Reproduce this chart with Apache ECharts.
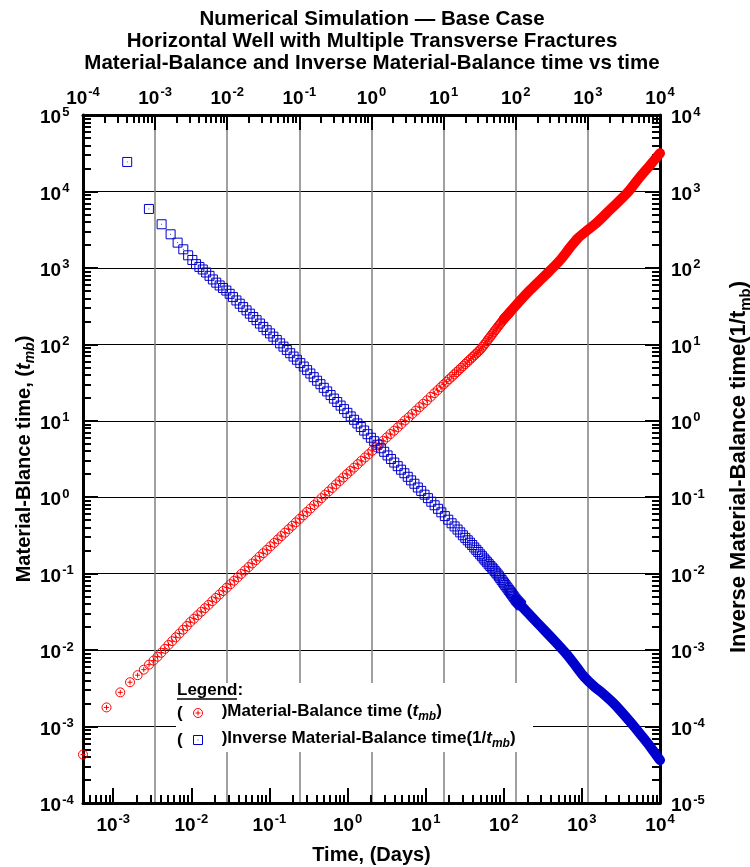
<!DOCTYPE html>
<html>
<head>
<meta charset="utf-8">
<script src="https://cdn.jsdelivr.net/npm/echarts@6/dist/echarts.min.js"></script>
<style>html,body{margin:0;padding:0;background:#fff}#c{width:750px;height:867px}</style>
</head>
<body>
<div id="c"></div>
<script>
const F = '"Liberation Sans", Arial, Helvetica, sans-serif';

// ---- data (time in days) ----
const timeDays = [
  4.1e-4, 8.2e-4, 1.23e-3, 1.64e-3, 2.05e-3, 2.46e-3, 2.87e-3, 3.28e-3, 3.69e-3,
  4.11e-3, 4.58e-3, 5.10e-3, 5.68e-3, 6.32e-3, 7.04e-3, 7.84e-3, 8.73e-3, 9.72e-3,
  1.08e-2, 1.20e-2, 1.34e-2, 1.49e-2, 1.66e-2, 1.85e-2, 2.06e-2, 2.29e-2, 2.55e-2, 2.84e-2,
  3.16e-2, 3.52e-2, 3.92e-2, 4.36e-2, 4.86e-2, 5.41e-2, 6.02e-2, 6.70e-2, 7.46e-2, 8.31e-2, 9.25e-2,
  0.103, 0.115, 0.128, 0.142, 0.158, 0.176, 0.196, 0.218, 0.243, 0.271,
  0.301, 0.335, 0.373, 0.416, 0.463, 0.515, 0.573, 0.638, 0.711, 0.791, 0.881, 0.981,
  1.09, 1.21, 1.35, 1.50, 1.67, 1.86, 2.07, 2.31, 2.57, 2.86,
  3.18, 3.54, 3.94, 4.39, 4.89, 5.44, 6.06, 6.74, 7.50, 8.35, 9.30,
  10.4, 11.6, 12.9, 14.2, 15.6, 17.0, 18.5, 20.0, 21.6, 23.2, 24.9,
  26.6, 28.4, 30.2, 32.1, 34.0, 36.0, 38.0, 40.1, 42.2, 44.4, 46.6, 48.9,
  51.2, 53.6, 56.0, 58.5, 61.0, 63.6, 66.2, 68.9, 71.6, 74.4, 77.2, 80.1, 83.0, 86.0, 89.0, 92.1, 95.2, 98.4,
  101.6, 104.9, 108.2, 111.6, 115.0, 118.5
];
// Material-balance time t_mb (left axis)
const tmb = [
  4.3e-4, 1.78e-3, 2.8e-3, 3.8e-3, 4.7e-3, 5.55e-3, 6.45e-3, 7.3e-3, 8.2e-3,
  9.23e-3, 1.04e-2, 1.17e-2, 1.31e-2, 1.47e-2, 1.65e-2, 1.85e-2, 2.07e-2, 2.33e-2,
  2.58e-2, 2.86e-2, 3.18e-2, 3.53e-2, 3.91e-2, 4.35e-2, 4.82e-2, 5.33e-2, 5.92e-2, 6.56e-2,
  7.28e-2, 8.09e-2, 8.96e-2, 0.0993, 0.110, 0.122, 0.136, 0.150, 0.167, 0.185, 0.205,
  0.228, 0.253, 0.281, 0.310, 0.344, 0.382, 0.423, 0.469, 0.521, 0.579,
  0.641, 0.711, 0.789, 0.875, 0.972, 1.08, 1.19, 1.32, 1.47, 1.63, 1.81, 2.01,
  2.21, 2.44, 2.71, 2.99, 3.31, 3.66, 4.05, 4.50, 4.97, 5.49,
  6.07, 6.72, 7.42, 8.22, 9.10, 10.1, 11.1, 12.3, 13.6, 15.1, 16.7,
  18.5, 20.6, 22.9, 25.1, 27.5, 29.9, 32.4, 35.0, 37.7, 40.4, 43.3,
  46.1, 49.1, 52.1, 55.3, 58.5, 61.8, 65.2, 68.6, 72.1, 75.7, 79.4, 83.2,
  87.5, 93.1, 98.6, 104, 110, 117, 123, 130, 137, 144, 152, 159, 167, 175, 183, 191, 200, 209,
  218, 226, 234, 243, 251, 260
];
// Inverse material-balance time 1/t_mb (right axis)
const invTmb = [
  2430, 590, 372, 275, 214, 175, 146, 127, 112,
  103, 95.3, 87.1, 78.7, 70.6, 64.1, 58.9, 54.6, 50.5,
  45.8, 41.5, 37.5, 34.0, 30.7, 27.8, 25.2, 22.8, 20.7, 18.7,
  16.9, 15.3, 13.9, 12.6, 11.4, 10.3, 9.33, 8.45, 7.65, 6.92, 6.28,
  5.68, 5.12, 4.60, 4.15, 3.72, 3.34, 3.01, 2.70, 2.42, 2.17,
  1.95, 1.76, 1.58, 1.42, 1.27, 1.14, 1.03, 0.923, 0.828, 0.745, 0.668, 0.600,
  0.541, 0.486, 0.437, 0.393, 0.352, 0.316, 0.284, 0.255, 0.229, 0.206,
  0.185, 0.166, 0.150, 0.134, 0.121, 0.108, 0.0973, 0.0873, 0.0785, 0.0705, 0.0634,
  0.0566, 0.0508, 0.0456, 0.0415, 0.0378, 0.0347, 0.0318, 0.0294, 0.0273, 0.0254, 0.0237,
  0.0220, 0.0205, 0.0192, 0.0179, 0.0169, 0.0158, 0.0149, 0.0141, 0.0133, 0.0126, 0.0120, 0.0114,
  0.0108, 0.0103, 0.00977, 0.00923, 0.00875, 0.00828, 0.00785, 0.00746, 0.00710, 0.00675, 0.00643, 0.00612, 0.00586, 0.00561, 0.00536, 0.00513, 0.00490, 0.00470,
  0.00451, 0.00436, 0.00423, 0.00409, 0.00397, 0.00385
];
// late-time (dense) part
const timeLate = [100, 143, 217, 337, 525, 708, 891, 1202, 1585, 2291, 3802, 5546, 7413, 10000];
const tmbLate = [214, 324, 513, 794, 1259, 1862, 2455, 3162, 3981, 5754, 9550, 15490, 21880, 31620];
const invTmbLate = [4.57e-3, 3.16e-3, 2.09e-3, 1.35e-3, 8.51e-4, 5.89e-4, 4.47e-4, 3.39e-4, 2.75e-4, 2.0e-4, 1.17e-4, 7.59e-5, 5.37e-5, 3.63e-5];

// ---- axis ticks ----
const bottomTicks = [1e-3, 1e-2, 1e-1, 1e0, 1e1, 1e2, 1e3, 1e4];
const topTicks = [1e-4, 1e-3, 1e-2, 1e-1, 1e0, 1e1, 1e2, 1e3, 1e4];
const leftTicks = [1e-4, 1e-3, 1e-2, 1e-1, 1e0, 1e1, 1e2, 1e3, 1e4, 1e5];
const rightTicks = [1e-5, 1e-4, 1e-3, 1e-2, 1e-1, 1e0, 1e1, 1e2, 1e3, 1e4];
const bottomRange = [4.1e-4, 1e4];
const topRange = [1e-4, 1e4];
const leftRange = [1e-4, 1e5];
const rightRange = [1e-5, 1e4];

const NAME_RED = 'Material-Balance time';
const NAME_BLUE = 'Inverse Material-Balance time';
const RED_SYMBOL = 'path://M0,10A10,10,0,1,1,20,10A10,10,0,1,1,0,10ZM10,4.5L10,15.5M4.5,10L15.5,10';
const BLUE_SYMBOL = 'path://M0,0L20,0L20,20L0,20ZM9.2,10L10.8,10';
const RED = '#ff0000';
const BLUE = '#0000cc';

function minorValues(lo, hi) {
  const out = [];
  for (let d = Math.floor(Math.log10(lo)); d < Math.ceil(Math.log10(hi)); d++) {
    for (let k = 2; k <= 9; k++) {
      const v = k * Math.pow(10, d);
      if (v > lo * 1.0001 && v < hi * 0.9999) out.push(v);
    }
  }
  return out;
}
const expLabel = v => '{b|10}{s|' + Math.round(Math.log10(v)) + '}';
const tickRich = {
  b: {fontFamily: F, fontSize: 19, fontWeight: 'bold', color: '#000', lineHeight: 19, padding: [3, 0, 0, 0], verticalAlign: 'top'},
  s: {fontFamily: F, fontSize: 13, fontWeight: 'bold', color: '#000', lineHeight: 13, padding: [0, 0, 0, 1], verticalAlign: 'top'}
};
function nameRich(size) {
  const sub = Math.round(size * 0.7);
  return {
    n: {fontFamily: F, fontSize: size, fontWeight: 'bold', color: '#000', lineHeight: size + 2, verticalAlign: 'top'},
    i: {fontFamily: F, fontSize: size, fontWeight: 'bold', fontStyle: 'italic', color: '#000', lineHeight: size + 2, verticalAlign: 'top'},
    sub: {fontFamily: F, fontSize: sub, fontWeight: 'bold', fontStyle: 'italic', color: '#000', lineHeight: sub, padding: [Math.round(size * 0.45), 0, 0, 0], verticalAlign: 'top'},
    subn: {fontFamily: F, fontSize: sub, fontWeight: 'bold', color: '#000', lineHeight: sub, padding: [Math.round(size * 0.45), 0, 0, 0], verticalAlign: 'top'}
  };
}

function majorAxis(opt) {
  return Object.assign({
    type: 'log', logBase: 10, nameMoveOverlap: false,
    axisLine: {show: true, onZero: false, lineStyle: {color: '#000', width: 3}},
    axisTick: {show: true, inside: true, length: 15, customValues: opt.ticks, lineStyle: {color: '#000', width: 2}},
    axisLabel: {show: true, customValues: opt.ticks, formatter: expLabel, rich: tickRich, margin: opt.margin, align: opt.align},
    splitLine: {show: false},
    minorTick: {show: false}, minorSplitLine: {show: false}
  }, opt.extra);
}
function minorAxis(position, range) {
  return {
    type: 'log', logBase: 10, position: position, min: range[0], max: range[1],
    axisLine: {show: false},
    axisLabel: {show: false},
    splitLine: {show: false},
    axisTick: {show: true, inside: true, length: 8, customValues: minorValues(range[0], range[1]), lineStyle: {color: '#000', width: 2}}
  };
}
const zip = (a, b) => a.map((v, i) => [v, b[i]]);

const chart = echarts.init(document.getElementById('c'), null, {renderer: 'canvas'});
chart.setOption({
  animation: false,
  backgroundColor: '#fff',
  title: {
    text: 'Numerical Simulation \u2014 Base Case\nHorizontal Well with Multiple Transverse Fractures\nMaterial-Balance and Inverse Material-Balance time vs time',
    left: 372, top: 8, padding: 0, textAlign: 'center',
    textStyle: {fontFamily: F, fontSize: 20.5, fontWeight: 'bold', lineHeight: 22, color: '#000'}
  },
  grid: {left: 83, right: 90, top: 115, bottom: 64, containLabel: false, outerBoundsMode: 'none'},
  xAxis: [
    majorAxis({ticks: bottomTicks, margin: 10, extra: {
      position: 'bottom', min: bottomRange[0], max: bottomRange[1],
      name: 'Time, (Days)', nameLocation: 'middle', nameGap: 42,
      nameTextStyle: {fontFamily: F, fontSize: 20, fontWeight: 'bold', color: '#000'}
    }}),
    majorAxis({ticks: topTicks, margin: 10, extra: {
      position: 'top', min: topRange[0], max: topRange[1], splitNumber: 8,
      splitLine: {show: true, lineStyle: {color: '#808080', width: 1.5}}
    }}),
    minorAxis('bottom', bottomRange),
    minorAxis('top', topRange)
  ],
  yAxis: [
    majorAxis({ticks: leftTicks, margin: 43, align: 'left', extra: {
      position: 'left', min: leftRange[0], max: leftRange[1], splitNumber: 9,
      splitLine: {show: true, lineStyle: {color: '#000', width: 1.2}},
      name: '{n|Material-Blance time, (}{i|t}{sub|mb}{n|)}', nameLocation: 'middle', nameGap: 47,
      nameTextStyle: {rich: nameRich(20)}
    }}),
    majorAxis({ticks: rightTicks, margin: 11, align: 'left', extra: {
      position: 'right', min: rightRange[0], max: rightRange[1], splitNumber: 9,
      name: '{n|Inverse Material-Balance time(1/t}{subn|mb}{n|)}', nameLocation: 'middle', nameGap: 68,
      nameTextStyle: {rich: nameRich(22), padding: [0, 16, 0, 0]}
    }}),
    minorAxis('left', leftRange),
    minorAxis('right', rightRange)
  ],
  legend: {
    orient: 'vertical', left: 193, top: 703, padding: 0,
    itemWidth: 9, itemHeight: 9, itemGap: 7, selectedMode: false,
    data: [
      {name: NAME_RED, icon: RED_SYMBOL, itemStyle: {color: 'rgba(0,0,0,0)', borderColor: RED, borderWidth: 1}},
      {name: NAME_BLUE, icon: BLUE_SYMBOL, itemStyle: {color: 'rgba(0,0,0,0)', borderColor: BLUE, borderWidth: 1}}
    ],
    formatter: name => name === NAME_RED
      ? '{t|   )Material-Balance time (}{i|t}{sub|mb}{t|)}'
      : '{t|   )Inverse Material-Balance time(1/}{i|t}{sub|mb}{t|)}',
    textStyle: {
      fontFamily: F, fontSize: 17, fontWeight: 'bold', color: '#000',
      rich: {
        t: {fontFamily: F, fontSize: 17, fontWeight: 'bold', color: '#000', lineHeight: 20, verticalAlign: 'top'},
        i: {fontFamily: F, fontSize: 17, fontWeight: 'bold', fontStyle: 'italic', color: '#000', lineHeight: 20, verticalAlign: 'top'},
        sub: {fontFamily: F, fontSize: 12, fontWeight: 'bold', fontStyle: 'italic', color: '#000', lineHeight: 12, padding: [8, 0, 0, 0], verticalAlign: 'top'}
      }
    }
  },
  graphic: [
    {type: 'rect', silent: true, z: 1, shape: {x: 176, y: 683, width: 357, height: 69}, style: {fill: '#fff'}},
    {type: 'text', silent: true, z: 5, x: 177, y: 690, style: {text: 'Legend:', fontFamily: F, fontSize: 17, fontWeight: 'bold', fill: '#000', verticalAlign: 'middle'}},
    {type: 'line', silent: true, z: 5, shape: {x1: 177, y1: 699, x2: 237, y2: 699}, style: {stroke: '#000', lineWidth: 1.5}},
    {type: 'text', silent: true, z: 5, x: 177, y: 713, style: {text: '(', fontFamily: F, fontSize: 17, fontWeight: 'bold', fill: '#000', verticalAlign: 'middle'}},
    {type: 'text', silent: true, z: 5, x: 177, y: 740, style: {text: '(', fontFamily: F, fontSize: 17, fontWeight: 'bold', fill: '#000', verticalAlign: 'middle'}}
  ],
  series: [
    {
      type: 'line', name: 'tmb-late', xAxisIndex: 0, yAxisIndex: 0, data: zip(timeLate, tmbLate),
      symbol: 'none', smooth: 0.3, clip: false, silent: true, z: 3,
      lineStyle: {color: RED, width: 10, cap: 'round', join: 'round'}
    },
    {
      type: 'line', name: 'inv-late', xAxisIndex: 1, yAxisIndex: 1, data: zip(timeLate, invTmbLate),
      symbol: 'none', smooth: 0.3, clip: false, silent: true, z: 3,
      lineStyle: {color: BLUE, width: 10, cap: 'round', join: 'round'}
    },
    {
      type: 'scatter', name: NAME_RED, xAxisIndex: 0, yAxisIndex: 0, data: zip(timeDays, tmb),
      symbol: RED_SYMBOL, symbolSize: 9, clip: false, silent: true, z: 3,
      itemStyle: {color: 'rgba(0,0,0,0)', borderColor: RED, borderWidth: 1, opacity: 1}
    },
    {
      type: 'scatter', name: NAME_BLUE, xAxisIndex: 1, yAxisIndex: 1, data: zip(timeDays, invTmb),
      symbol: BLUE_SYMBOL, symbolSize: 9, clip: false, silent: true, z: 3,
      itemStyle: {color: 'rgba(0,0,0,0)', borderColor: BLUE, borderWidth: 1, opacity: 1}
    }
  ]
});
</script>
</body>
</html>
